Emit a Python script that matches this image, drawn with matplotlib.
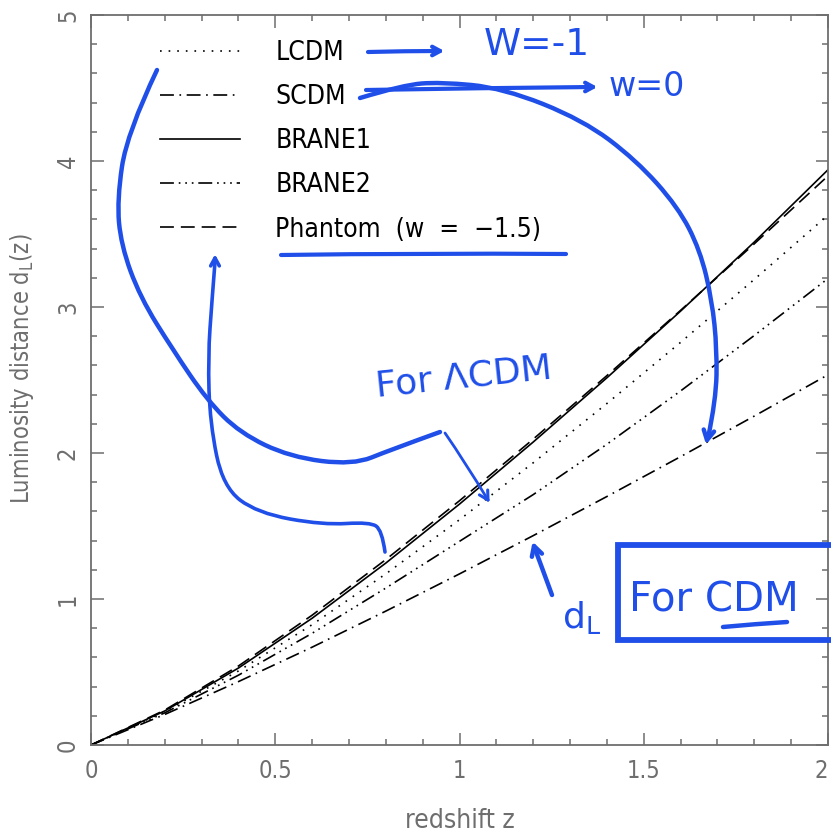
import numpy as np
import matplotlib.pyplot as plt
from matplotlib.path import Path
from matplotlib.patches import PathPatch
from matplotlib.ticker import MultipleLocator

# luminosity distance d_L(z) in units of c/H0
z = [0.0, 0.2, 0.4, 0.6, 0.8, 1.0, 1.2, 1.4, 1.6, 1.8, 2.0]
lcdm = [0.0, 0.229, 0.507, 0.824, 1.172, 1.543, 1.933, 2.339, 2.758, 3.189, 3.629]
scdm = [0.0, 0.209, 0.434, 0.670, 0.917, 1.172, 1.434, 1.702, 1.975, 2.253, 2.536]
brane1 = [0.0, 0.233, 0.527, 0.868, 1.246, 1.650, 2.075, 2.515, 2.972, 3.445, 3.940]
brane2 = [0.0, 0.220, 0.478, 0.765, 1.075, 1.395, 1.715, 2.060, 2.425, 2.805, 3.195]
phantom = [0.0, 0.239, 0.541, 0.889, 1.270, 1.673, 2.095, 2.530, 2.977, 3.433, 3.898]

labels = ['LCDM', 'SCDM', 'BRANE1', 'BRANE2', 'Phantom  (w  =  \u22121.5)']
xticks = [0, 0.5, 1, 1.5, 2]

plt.rcParams['lines.scale_dashes'] = False
FAM = ['DejaVu Sans']
GREY = '#6e6e6e'
BLUE = '#1f4fe8'

fig = plt.figure(figsize=(8.31, 8.38), dpi=100)
ax = fig.add_axes([91 / 831, 93 / 838, 737 / 831, 730 / 838])

ax.plot(z, lcdm, color='k', lw=1.2, ls=(0, (1.2, 5.0)), label=labels[0])
ax.plot(z, scdm, color='k', lw=1.2, ls=(0, (10, 4, 1.2, 4)), label=labels[1])
ax.plot(z, brane1, color='k', lw=1.2, ls='-', label=labels[2])
ax.plot(z, brane2, color='k', lw=1.2, ls=(0, (10, 3.5, 1.2, 3.5, 1.2, 3.5, 1.2, 3.5)), label=labels[3])
ax.plot(z, phantom, color='k', lw=1.2, ls=(0, (10, 5)), label=labels[4])

ax.set_xlim(0, 2)
ax.set_ylim(0, 5)
ax.set_xticks(xticks)
ax.set_xticklabels(['%g' % v for v in xticks])
ax.xaxis.set_minor_locator(MultipleLocator(0.1))
ax.yaxis.set_major_locator(MultipleLocator(1))
ax.yaxis.set_minor_locator(MultipleLocator(0.2))
ax.tick_params(which='both', direction='in', top=True, right=True, color=GREY, width=1.1)
ax.tick_params(which='major', length=9)
ax.tick_params(which='minor', length=4.5)
ax.tick_params(axis='x', pad=10, labelsize=17, labelcolor=GREY)
ax.tick_params(axis='y', pad=8, labelsize=17, labelcolor=GREY, labelrotation=90)
fig.canvas.draw()
for t in ax.get_xticklabels() + ax.get_yticklabels():
    t.set_family(FAM)
    t.set_stretch('condensed')
for t in ax.get_yticklabels():
    t.set_verticalalignment('center')
ax.get_xticklabels()[-1].set_horizontalalignment('right')
for s in ax.spines.values():
    s.set_color(GREY)
    s.set_linewidth(1.3)

ax.set_xlabel('redshift z', fontsize=19, color=GREY, family=FAM, stretch='condensed',
              labelpad=18)
ax.set_ylabel('Luminosity distance d$_\\mathregular{L}$(z)', fontsize=17, color=GREY,
              family=FAM, stretch='condensed')
ax.yaxis.set_label_coords(-0.075, 0.515)

ax.legend(loc='upper left', bbox_to_anchor=(0.094, 0.966), frameon=False,
          borderpad=0, borderaxespad=0, handlelength=3.03, handletextpad=1.33,
          labelspacing=0.69, prop={'family': FAM, 'size': 19, 'stretch': 'condensed'})

# blue hand-drawn notes, in pixel coordinates of the picture
ov = fig.add_axes([0, 0, 1, 1], facecolor='none')
ov.set_xlim(0, 831)
ov.set_ylim(838, 0)
ov.axis('off')


def stroke(pts, lw=3.0):
    pts = np.asarray(pts, float)
    verts = [pts[0]]
    codes = [Path.MOVETO]
    for i in range(1, len(pts) - 1):
        verts += [pts[i], (pts[i] + pts[i + 1]) / 2]
        codes += [Path.CURVE3, Path.CURVE3]
    verts[-1] = pts[-1]
    if len(pts) == 2:
        verts.append(pts[1])
        codes.append(Path.LINETO)
    ov.add_patch(PathPatch(Path(verts, codes), fill=False, ec=BLUE, lw=lw,
                           capstyle='round', joinstyle='round'))


def head(tip, frm, size=12, lw=3.0):
    tip = np.asarray(tip, float)
    d = tip - np.asarray(frm, float)
    d /= np.hypot(*d)
    for a in (0.5, -0.5):
        r = np.array([[np.cos(a), -np.sin(a)], [np.sin(a), np.cos(a)]])
        p = tip - size * (r @ d)
        ov.plot([tip[0], p[0]], [tip[1], p[1]], color=BLUE, lw=lw, solid_capstyle='round')


stroke([(368, 52), (405, 51), (440, 51)], 3)
head((440, 51), (420, 51), 9, 3)
stroke([(366, 90), (480, 88), (593, 87)], 3)
head((593, 87), (570, 87), 9, 3)
stroke([(281, 255), (420, 253), (566, 254)], 3)

stroke([(157, 70), (127, 133), (117, 200), (121, 245), (140, 297), (173, 350),
        (207, 400), (240, 433), (290, 457), (353, 465), (390, 450), (440, 432)], 3.2)
stroke([(443, 425), (452, 443)], 4)
stroke([(445, 433), (465, 462), (488, 500)], 2)
head((488, 500), (475, 478), 10, 2.2)

stroke([(385, 552), (382, 530), (370, 522), (323, 525), (257, 513), (223, 487),
        (210, 423), (208, 357), (212, 300), (215, 262)], 2.6)
head((215, 258), (215, 280), 9, 2.6)

stroke([(360, 98), (403, 85), (440, 82), (503, 88), (583, 120), (636, 160),
        (678, 207), (700, 250), (712, 300), (717, 350), (716, 400), (708, 438)], 3.2)
head((707, 440), (712, 415), 11, 3.2)

stroke([(552, 595), (541, 565), (535, 549)], 3.2)
head((534, 546), (540, 565), 11, 3.2)
ov.plot([831, 618, 618, 831], [545, 545, 640, 640], color=BLUE, lw=4.2,
        solid_joinstyle='miter')
stroke([(723, 627), (755, 624), (787, 622)], 3.2)

ov.text(537, 45, 'W=-1', color=BLUE, fontsize=27, ha='center', va='center')
ov.text(647, 87, 'w=0', color=BLUE, fontsize=24, ha='center', va='center')
ov.text(464, 377, 'For \u039bCDM', color=BLUE, fontsize=26, ha='center', va='center',
        rotation=6)
ov.text(582, 617, 'd$_\\mathregular{L}$', color=BLUE, fontsize=26, ha='center', va='center')
ov.text(714, 600, 'For CDM', color=BLUE, fontsize=29, ha='center', va='center')

fig.savefig('out.png', dpi=100)
